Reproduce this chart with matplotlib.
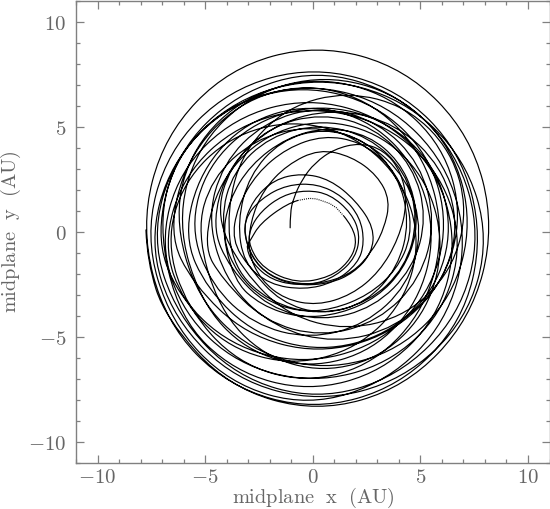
"""
Plot: orbit of a body in the midplane, x against y in AU.

Way-points are read off the picture, one revolution per line, and drawn as
one smooth quadratic path. A short stretch near the middle is dotted.
"""
import matplotlib
matplotlib.use("Agg")
import matplotlib.pyplot as plt
import matplotlib.ticker as ticker
from matplotlib.patches import PathPatch
from matplotlib.path import Path
import numpy as np

plt.rcParams["mathtext.fontset"] = "cm"

OUT = "out.png"
GREY = "#808080"
TEXT = "#666666"

X_LABEL = r"$\mathrm{midplane\ \ x\ \ (AU)}$"
Y_LABEL = r"$\mathrm{midplane\ \ y\ \ (AU)}$"
MAJOR_TICKS = [-10, -5, 0, 5, 10]

# start of the track up to the dotted stretch
inner_xy = [
    (-1.05, 0.2), (-1.05, 0.9), (-0.9, 1.6), (-0.5, 2.5), (0.1, 3.3), (1.0, 3.95), (2.2, 4.25), (3.3, 3.9),
    (4.1, 2.9), (4.4, 1.4), (4.0, -0.3), (3.1, -1.9), (1.8, -3.0), (0.2, -3.5), (-1.3, -3.2), (-2.4, -2.3),
    (-3.0, -1.0), (-2.9, 0.5), (-2.3, 2.0), (-1.2, 3.2), (0.3, 3.95), (1.8, 3.6), (3.0, 2.7), (3.6, 1.5),
    (3.3, 0.1), (2.7, -1.0), (1.9, -1.9), (0.7, -2.4), (-0.7, -2.5), (-2.0, -2.1), (-2.85, -1.2),
    (-3.25, 0.2), (-2.8, 1.5), (-1.8, 2.5), (-0.5, 2.8), (0.8, 2.5), (2.0, 1.5), (2.85, 0.2), (2.75, -1.0),
    (1.9, -1.95), (0.8, -2.45), (-0.6, -2.55), (-1.9, -2.3), (-2.8, -1.5), (-3.1, -0.7),
    (-2.9, -0.4), (-2.45, 0.4), (-1.2, 1.35), (-0.7, 1.5),
]

dotted_xy = [
    (-0.7, 1.5), (-0.4, 1.56), (-0.15, 1.6), (0.15, 1.58), (0.45, 1.48),
    (0.8, 1.35), (1.1, 1.15), (1.45, 0.75),
]

outer_xy = [
    (1.45, 0.75), (1.85, 0.25), (2.05, -0.6), (1.65, -1.45), (0.8, -2.15), (-0.75, -2.45), (-2.3, -1.75), (-2.95, -0.7),
    (-2.95, 0.1), (-2.4, 1.0), (-1.4, 1.75), (-0.3, 2.0), (0.8, 1.8), (1.8, 0.9), (2.2, -0.1), (2.0, -1.2),
    (1.1, -2.1), (-0.1, -2.55), (-1.4, -2.4), (-2.5, -1.7),
    (-3.1, -0.6), (-3.2, 0.6), (-2.4, 1.6), (-1.2, 2.25), (0.2, 2.3), (1.4, 1.7), (2.2, 0.7), (2.4, -0.5),
    (2.1, -1.5), (1.0, -2.4), (-0.4, -2.75), (-2.0, -2.5), (-3.2, -1.5),
    (-3.5, 0.5), (-2.95, 2.7), (-1.5, 4.35), (0.5, 4.95), (2.5, 4.35), (3.95, 2.7), (4.5, 0.5), (3.95, -1.7),
    (2.5, -3.35), (0.5, -3.95), (-1.5, -3.35), (-2.95, -1.7),
    (-3.75, -0.4), (-3.5, 1.2), (-2.6, 2.8), (-1.2, 4.0), (0.5, 4.6), (2.2, 4.3), (3.6, 3.2), (4.4, 1.6),
    (4.6, -0.2), (3.9, -1.8), (2.6, -3.0), (0.9, -3.7), (-0.7, -3.8), (-2.3, -3.2), (-3.5, -2.0),
    (-4.2, -0.3), (-3.9, 1.5), (-2.9, 3.2), (-1.2, 4.5), (0.7, 5.0), (2.6, 4.6), (4.0, 3.4), (4.75, 1.7),
    (4.85, -0.1), (4.2, -1.8), (3.0, -3.1), (1.3, -3.9), (-0.6, -4.1), (-2.4, -3.5), (-3.7, -2.3),
    (-4.3, 0.6), (-3.7, 2.9), (-2.0, 4.55), (0.3, 5.15), (2.6, 4.55), (4.3, 2.9), (4.9, 0.6), (4.3, -1.7),
    (2.6, -3.35), (0.3, -3.95), (-2.0, -3.35), (-3.7, -1.7),
    (-4.0, 1.0), (-3.25, 3.85), (-1.2, 5.95), (1.6, 6.7), (4.4, 5.95), (6.45, 3.85), (7.2, 1.0), (6.45, -1.85),
    (4.4, -3.95), (1.6, -4.7), (-1.2, -3.95), (-3.25, -1.85),
    (-4.5, 0.7), (-3.85, 3.15), (-2.05, 5.0), (0.4, 5.65), (2.85, 5.0), (4.65, 3.15), (5.3, 0.7), (4.65, -1.75),
    (2.85, -3.6), (0.4, -4.25), (-2.05, -3.6), (-3.85, -1.75),
    (-4.7, 0.3), (-3.95, 3.1), (-1.8, 5.15), (1.05, 5.9), (3.9, 5.15), (6.0, 3.1), (6.8, 0.3), (6.0, -2.5),
    (3.9, -4.55), (1.05, -5.3), (-1.8, -4.55), (-3.95, -2.5),
    (-4.9, 0.5), (-4.2, 3.25), (-2.25, 5.25), (0.4, 6.0), (3.05, 5.25), (5.0, 3.25), (5.7, 0.5), (5.0, -2.25),
    (3.05, -4.25), (0.4, -5.0), (-2.25, -4.25), (-4.2, -2.25),
    (-5.1, -0.65), (-4.35, 2.4), (-2.3, 4.6), (0.5, 5.4), (3.3, 4.6), (5.35, 2.4), (6.1, -0.65), (5.35, -3.7),
    (3.3, -5.9), (0.5, -6.7), (-2.3, -5.9), (-4.35, -3.7),
    (-5.4, 0.0), (-4.7, 2.55), (-2.75, 4.4), (-0.15, 5.1), (2.45, 4.4), (4.4, 2.55), (5.1, 0.0), (4.4, -2.55),
    (2.45, -4.4), (-0.15, -5.1), (-2.75, -4.4), (-4.7, -2.55),
    (-5.7, 0.2), (-4.9, 3.15), (-2.65, 5.3), (0.4, 6.1), (3.45, 5.3), (5.7, 3.15), (6.5, 0.2), (5.7, -2.75),
    (3.45, -4.9), (0.4, -5.7), (-2.65, -4.9), (-4.9, -2.75),
    (-6.0, -0.2), (-5.2, 2.95), (-3.1, 5.25), (-0.15, 6.1), (2.8, 5.25), (4.9, 2.95), (5.7, -0.2), (4.9, -3.35),
    (2.8, -5.65), (-0.15, -6.5), (-3.1, -5.65), (-5.2, -3.35),
    (-6.3, 0.45), (-5.4, 4.0), (-2.9, 6.55), (0.55, 7.5), (4.0, 6.55), (6.5, 4.0), (7.4, 0.45), (6.5, -3.1),
    (4.0, -5.65), (0.55, -6.6), (-2.9, -5.65), (-5.4, -3.1),
    (-6.45, 0.8), (-5.55, 4.1), (-3.1, 6.5), (0.25, 7.4), (3.6, 6.5), (6.05, 4.1), (6.95, 0.8), (6.05, -2.5),
    (3.6, -4.9), (0.25, -5.8), (-3.1, -4.9), (-5.55, -2.5),
    (-6.7, -0.05), (-5.85, 3.5), (-3.5, 6.15), (-0.3, 7.1), (2.9, 6.15), (5.25, 3.5), (6.1, -0.05), (5.25, -3.6),
    (2.9, -6.25), (-0.3, -7.2), (-3.5, -6.25), (-5.85, -3.6),
    (-6.8, -0.5), (-6.0, 2.4), (-3.85, 4.55), (-0.9, 5.35), (2.05, 4.55), (4.2, 2.4), (5.0, -0.5), (4.2, -3.4),
    (2.05, -5.55), (-0.9, -6.35), (-3.85, -5.55), (-6.0, -3.4),
    (-6.95, -0.6), (-6.0, 2.7), (-3.5, 5.1), (0.0, 6.0), (3.5, 5.1), (6.0, 2.7), (6.95, -0.6), (6.0, -3.9),
    (3.5, -6.3), (0.0, -7.2), (-3.5, -6.3), (-6.0, -3.9),
    (-7.1, -0.6), (-6.2, 2.9), (-3.65, 5.45), (-0.2, 6.4), (3.25, 5.45), (5.8, 2.9), (6.7, -0.6), (5.8, -4.1),
    (3.25, -6.65), (-0.2, -7.6), (-3.65, -6.65), (-6.2, -4.1),
    (-7.2, 0.35), (-6.3, 3.7), (-3.85, 6.1), (-0.45, 7.0), (2.95, 6.1), (5.4, 3.7), (6.3, 0.35), (5.4, -3.0),
    (2.95, -5.4), (-0.45, -6.3), (-3.85, -5.4), (-6.3, -3.0),
    (-7.3, -0.1), (-6.3, 3.8), (-3.55, 6.6), (0.2, 7.75), (3.95, 6.6), (6.7, 3.8), (7.8, -0.1), (6.8, -4.0),
    (3.95, -6.9), (0.2, -8.0), (-3.55, -6.9), (-6.3, -4.0),
    (-7.5, -0.3), (-6.45, 3.55), (-3.6, 6.35), (0.3, 7.4), (4.2, 6.35), (7.05, 3.55), (8.2, -0.3), (7.15, -4.2),
    (4.2, -7.05), (0.3, -8.1), (-3.6, -7.05), (-6.45, -4.15),
    (-7.6, -0.5), (-6.6, 3.3), (-3.9, 6.1), (-0.2, 7.1), (3.5, 6.1), (6.2, 3.3), (7.2, -0.5), (6.2, -4.3),
    (3.5, -7.1), (-0.2, -8.3), (-3.9, -7.2), (-6.6, -4.3),
    (-7.8, -0.2), (-6.75, 3.85), (-3.9, 6.8), (0.05, 7.9), (4.0, 6.8), (6.85, 3.85), (7.9, -0.2), (6.95, -4.3),
    (4.05, -7.35), (0.05, -8.5), (-3.95, -7.35), (-6.85, -4.3),
    (-8.0, 0.25), (-6.9, 4.6), (-3.9, 7.8), (0.2, 8.95), (4.3, 7.8), (7.35, 4.6), (8.45, 0.25), (7.35, -4.15),
    (4.3, -7.4), (0.2, -8.6), (-3.9, -7.4), (-6.85, -4.1), (-7.7, -1.4), (-7.75, 0.1),
]


def smooth_path(points):
    # way-points act as quadratic control points, the curve passes their midpoints
    pts = np.asarray(points, dtype=float)
    verts = [pts[0]]
    codes = [Path.MOVETO]
    for i in range(1, len(pts) - 1):
        end = pts[i + 1] if i == len(pts) - 2 else (pts[i] + pts[i + 1]) / 2
        verts += [pts[i], end]
        codes += [Path.CURVE3, Path.CURVE3]
    return Path(verts, codes)


fig = plt.figure(figsize=(5.5, 5.09), dpi=100)
ax = fig.add_axes([76 / 550, 46 / 509, 473.5 / 550, 462 / 509])

for track in (inner_xy, outer_xy):
    ax.add_patch(PathPatch(smooth_path(track), fill=False, edgecolor="black",
                           linewidth=0.85, capstyle="round"))

dotted = np.array(dotted_xy)
ax.plot(dotted[:, 0], dotted[:, 1], color="black", linewidth=0.85, linestyle=(0, (0.8, 1.0)))

ax.set_xlim(-11, 11)
ax.set_ylim(-11, 11)

for axis in (ax.xaxis, ax.yaxis):
    axis.set_major_locator(ticker.FixedLocator(MAJOR_TICKS))
    axis.set_minor_locator(ticker.MultipleLocator(1))
    axis.set_major_formatter(ticker.FuncFormatter(lambda v, _: f"${v:g}$"))

ax.tick_params(which="major", direction="in", length=6, width=0.9, color=GREY,
               labelcolor=TEXT, labelsize=15, top=True, right=True, pad=7)
ax.tick_params(which="minor", direction="in", length=3, width=0.9, color=GREY, top=True, right=True)
ax.tick_params(axis="x", which="major", pad=3)
for spine in ax.spines.values():
    spine.set_edgecolor(GREY)
    spine.set_linewidth(1.0)

fig.text(313 / 550, 1 - 498 / 509, X_LABEL, color=TEXT, fontsize=14.7, ha="center", va="center")
fig.text(11 / 550, 1 - 232 / 509, Y_LABEL, color=TEXT, fontsize=14.7, ha="center", va="center", rotation=90)

fig.savefig(OUT, dpi=100, facecolor="white")
print(f"Saved {OUT}")
